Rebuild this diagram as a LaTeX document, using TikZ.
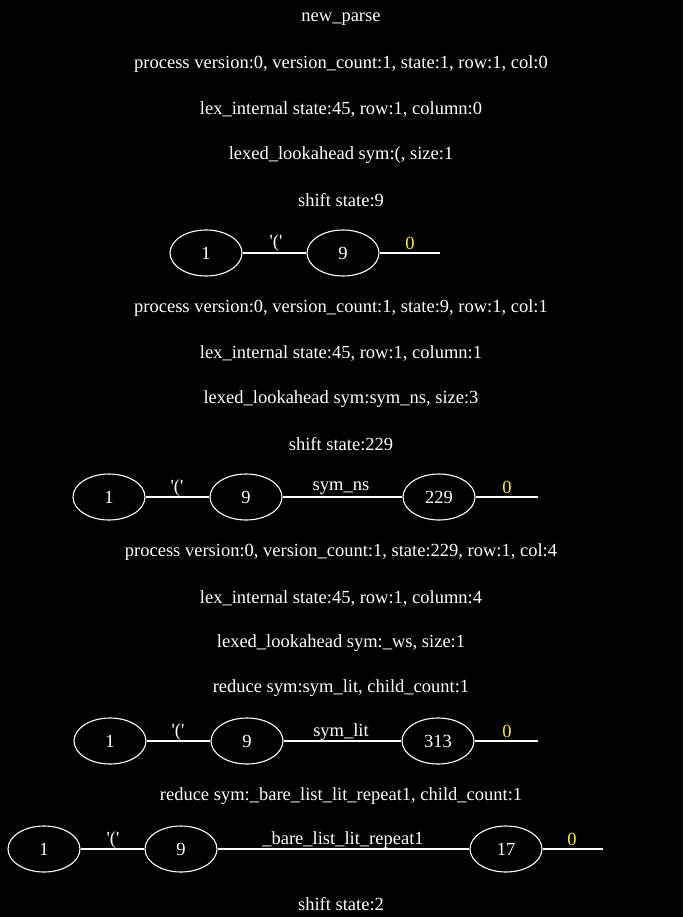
\documentclass[tikz,border=0pt]{standalone}
\usepackage{fontspec}
\setmainfont{Liberation Serif}
\usetikzlibrary{shapes.geometric}
\newcommand{\sq}{\textquotesingle}
\begin{document}
\begin{tikzpicture}[x=1pt,y=-1pt,
  every node/.style={font=\fontsize{18.5}{21}\selectfont, text=white},
  st/.style={draw=white, line width=1.1pt, ellipse, minimum width=72pt, minimum height=46pt, inner sep=0pt},
  edge/.style={draw=white, line width=1.1pt},
  yl/.style={text=yellow},
  lbl/.style={inner sep=0pt, yshift=-2pt}]
\fill[black] (0,0) rectangle (683,917);
\useasboundingbox (0,0) rectangle (683,917);
% text lines
\node[lbl] (t1) at (341,17) {new\_parse};
\node[lbl] (t2) at (341,62) {process version:0, version\_count:1, state:1, row:1, col:0};
\node[lbl] (t3) at (341,108) {lex\_internal state:45, row:1, column:0};
\node[lbl] (t4) at (341,153) {lexed\_lookahead sym:(, size:1};
\node[lbl] (t5) at (341,198) {shift state:9};
% graph 1
\node[st] (a1) at (206,253) {1};
\node[st] (a2) at (343,253) {9};
\coordinate (a3) at (440,253);
\draw[edge] (a1) -- (a2);
\draw[edge] (a2) -- (a3);
\node[lbl] (al1) at (276,241) {\sq(\sq};
\node[lbl,yl] (al2) at (410,241) {0};
% text lines
\node[lbl] (t6) at (341,306) {process version:0, version\_count:1, state:9, row:1, col:1};
\node[lbl] (t7) at (341,352) {lex\_internal state:45, row:1, column:1};
\node[lbl] (t8) at (341,397) {lexed\_lookahead sym:sym\_ns, size:3};
\node[lbl] (t9) at (341,442) {shift state:229};
% graph 2
\node[st] (b1) at (109,497) {1};
\node[st] (b2) at (246,497) {9};
\node[st] (b3) at (439,497) {229};
\coordinate (b4) at (538,497);
\draw[edge] (b1) -- (b2);
\draw[edge] (b2) -- (b3);
\draw[edge] (b3) -- (b4);
\node[lbl] (bl1) at (177,486) {\sq(\sq};
\node[lbl] (bl2) at (341,486) {sym\_ns};
\node[lbl,yl] (bl3) at (507,485) {0};
% text lines
\node[lbl] (t10) at (341,550) {process version:0, version\_count:1, state:229, row:1, col:4};
\node[lbl] (t11) at (341,596) {lex\_internal state:45, row:1, column:4};
\node[lbl] (t12) at (341,641) {lexed\_lookahead sym:\_ws, size:1};
\node[lbl] (t13) at (341,686) {reduce sym:sym\_lit, child\_count:1};
% graph 3
\node[st] (c1) at (110,741) {1};
\node[st] (c2) at (247,741) {9};
\node[st] (c3) at (438,741) {313};
\coordinate (c4) at (538,741);
\draw[edge] (c1) -- (c2);
\draw[edge] (c2) -- (c3);
\draw[edge] (c3) -- (c4);
\node[lbl] (cl1) at (178,730) {\sq(\sq};
\node[lbl] (cl2) at (341,730) {sym\_lit};
\node[lbl,yl] (cl3) at (507,729) {0};
% text
\node[lbl] (t14) at (341,794) {reduce sym:\_bare\_list\_lit\_repeat1, child\_count:1};
% graph 4
\node[st] (d1) at (44,849) {1};
\node[st] (d2) at (181,849) {9};
\node[st] (d3) at (506,849) {17};
\coordinate (d4) at (603,849);
\draw[edge] (d1) -- (d2);
\draw[edge] (d2) -- (d3);
\draw[edge] (d3) -- (d4);
\node[lbl] (dl1) at (113,838) {\sq(\sq};
\node[lbl] (dl2) at (343,838) {\_bare\_list\_lit\_repeat1};
\node[lbl,yl] (dl3) at (572,837) {0};
\node[lbl] (t15) at (341,902) {shift state:2};
\end{tikzpicture}
\end{document}
